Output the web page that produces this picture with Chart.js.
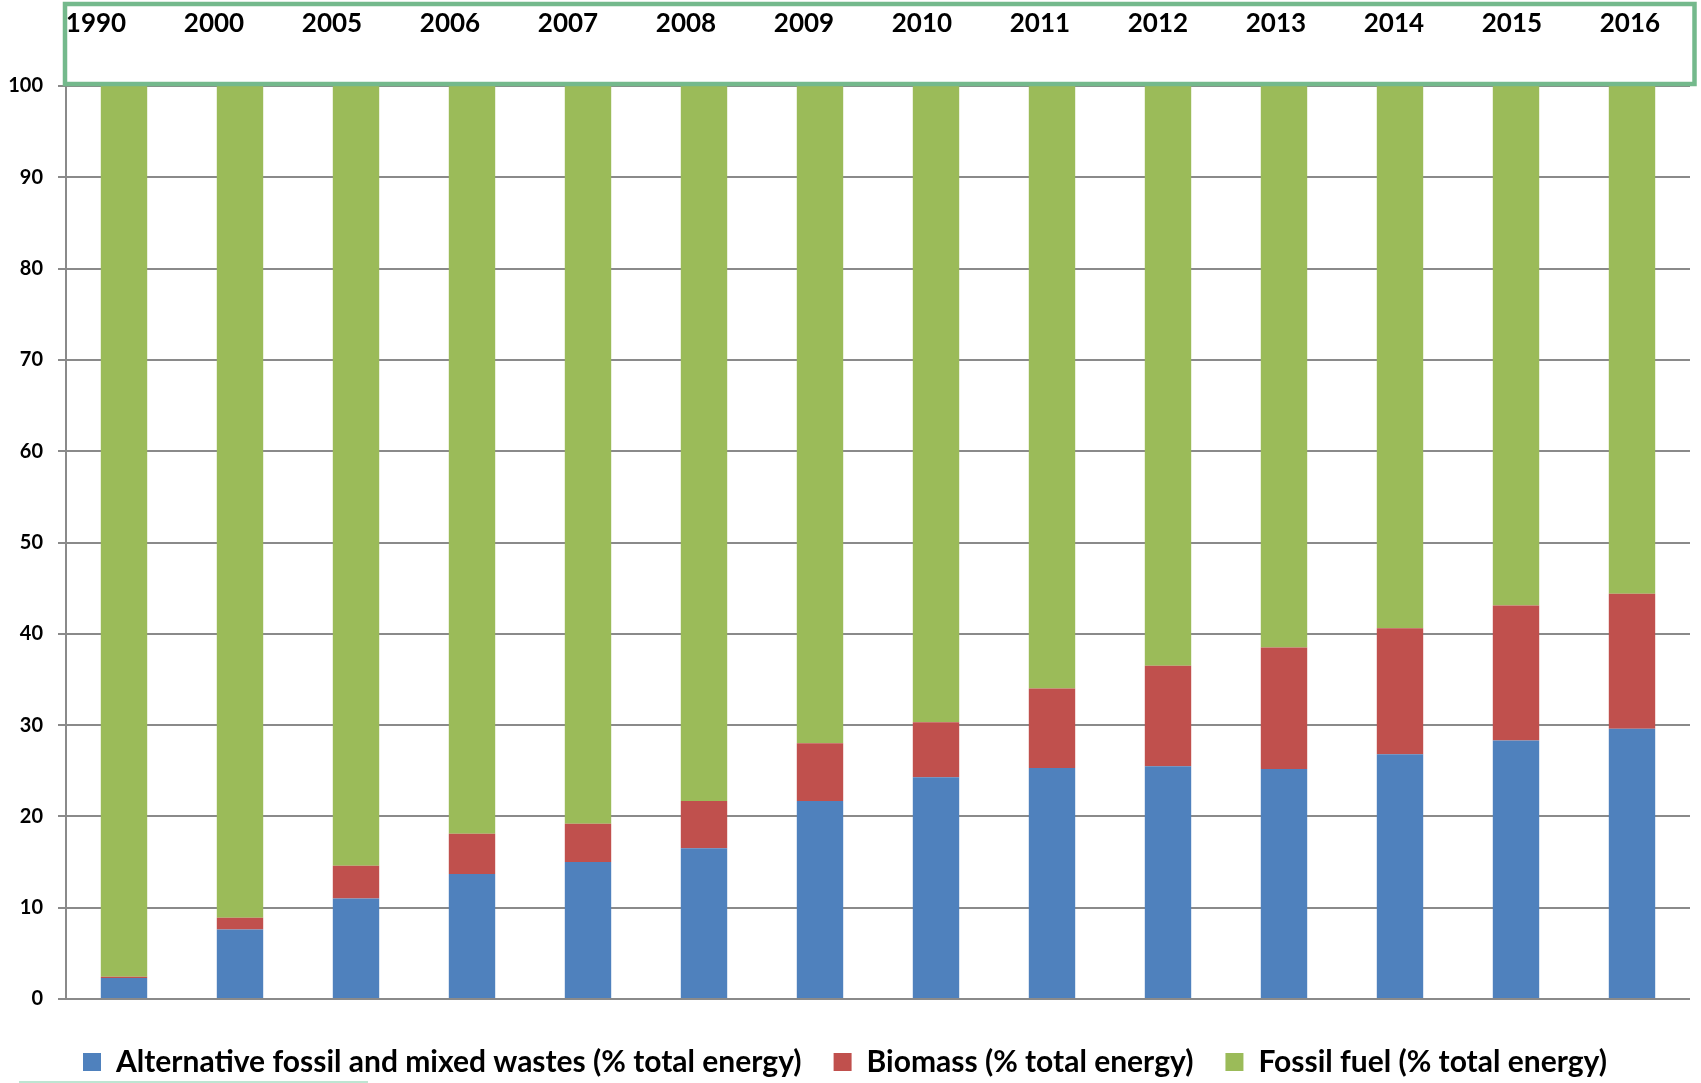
<!DOCTYPE html>
<html>
<head>
<meta charset="utf-8">
<script src="https://cdn.jsdelivr.net/npm/chart.js@4/dist/chart.umd.min.js"></script>
<style>
  html, body { margin: 0; padding: 0; background: #fff; }
  #wrap { width: 1701px; height: 1083px; }
</style>
</head>
<body>
<div id="wrap"><canvas id="chart" width="1701" height="1083"></canvas></div>
<script>
const years = ['1990', '2000', '2005', '2006', '2007', '2008', '2009', '2010', '2011', '2012', '2013', '2014', '2015', '2016'];
const altWastes = [2.3, 7.6, 11.0, 13.7, 15.0, 16.5, 21.7, 24.3, 25.3, 25.5, 25.2, 26.8, 28.3, 29.6];
const biomass = [0.15, 1.3, 3.6, 4.4, 4.2, 5.2, 6.3, 6.0, 8.7, 11.0, 13.3, 13.8, 14.8, 14.8];
const fossilFuel = [97.55, 91.1, 85.4, 81.9, 80.8, 78.3, 72.0, 69.7, 66.0, 63.5, 61.5, 59.4, 56.9, 55.6];
const yTicks = [0, 10, 20, 30, 40, 50, 60, 70, 80, 90, 100];

const gridGrey = '#8a8a8a';
const font = 'Lato';

// green frame round the year labels, plus the stray line bottom-left
const framePlugin = {
  id: 'frame',
  afterDraw(chart) {
    const { ctx, chartArea } = chart;
    ctx.save();
    ctx.strokeStyle = '#74b98c';
    ctx.lineWidth = 4.5;
    ctx.strokeRect(chartArea.left - 1, 4, chart.width - 5.5 - chartArea.left, chartArea.top - 6);
    ctx.strokeStyle = '#a9dcc3';
    ctx.lineWidth = 1.5;
    ctx.beginPath();
    ctx.moveTo(19, chart.height - 1);
    ctx.lineTo(368, chart.height - 1);
    ctx.stroke();
    ctx.restore();
  }
};

new Chart(document.getElementById('chart').getContext('2d'), {
  type: 'bar',
  data: {
    labels: years,
    datasets: [
      {
        label: 'Alternative fossil and mixed wastes (% total energy)',
        data: altWastes,
        backgroundColor: '#4f81bd',
        borderWidth: 0
      },
      {
        label: 'Biomass (% total energy)',
        data: biomass,
        backgroundColor: '#c0504d',
        borderWidth: 0
      },
      {
        label: 'Fossil fuel (% total energy)',
        data: fossilFuel,
        backgroundColor: '#9bbb59',
        borderWidth: 0
      }
    ]
  },
  options: {
    responsive: false,
    animation: false,
    devicePixelRatio: 1,
    layout: { padding: { left: 0, right: 11, top: 0, bottom: 0 } },
    datasets: { bar: { barPercentage: 0.4, categoryPercentage: 1.0 } },
    scales: {
      x: {
        stacked: true,
        display: false
      },
      // year labels sit in a row of their own above the plot, a little off the bar centres
      x2: {
        type: 'linear',
        position: 'top',
        offset: false,
        bounds: 'data',
        min: -0.254,
        max: 13.509,
        grid: { display: false, drawTicks: false, offset: false },
        border: { display: false },
        afterFit: (s) => {
          s.height = 86;
          s.paddingLeft = 0;
          s.paddingRight = 0;
        },
        afterBuildTicks: (s) => { s.ticks = years.map((_, i) => ({ value: i })); },
        ticks: {
          autoSkip: false,
          maxRotation: 0,
          padding: 47,
          color: '#000',
          font: { family: font, size: 26, weight: 'bold' },
          callback: (v) => years[v] ?? ''
        }
      },
      y: {
        stacked: true,
        min: 0,
        max: 100,
        afterFit: (s) => { s.width = 66; },
        afterBuildTicks: (s) => { s.ticks = yTicks.map(v => ({ value: v })); },
        grid: { color: gridGrey, lineWidth: 2, tickLength: 8, drawTicks: true },
        border: { display: true, color: gridGrey, width: 2 },
        ticks: {
          padding: 15,
          color: '#000',
          font: { family: font, size: 20, weight: 'bold' }
        }
      }
    },
    plugins: {
      tooltip: { enabled: false },
      legend: {
        position: 'bottom',
        maxHeight: 84,
        title: { display: true, text: '', padding: 0, font: { size: 16, lineHeight: 1 } },
        labels: {
          boxWidth: 18,
          boxHeight: 18,
          padding: 32,
          color: '#000',
          font: { family: font, size: 30, weight: 'bold' }
        }
      }
    }
  },
  plugins: [framePlugin]
});
</script>
</body>
</html>
